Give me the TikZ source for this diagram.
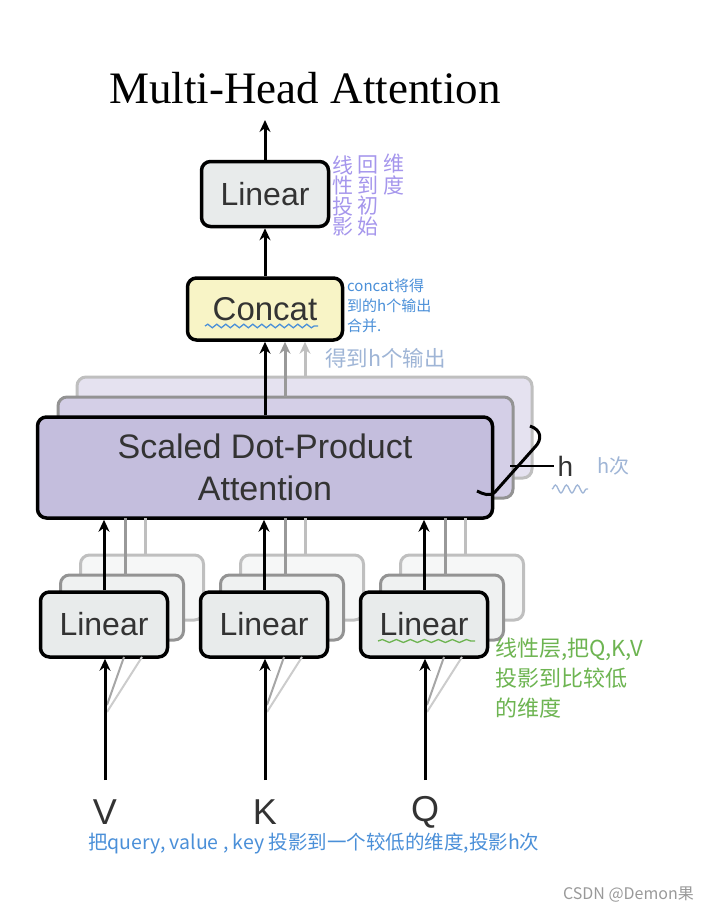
\documentclass[tikz,border=0pt]{standalone}
\usepackage{fontspec}
\setmainfont{Liberation Serif}
\setsansfont{Liberation Sans}
\newfontfamily\cjk{Noto Sans CJK SC}
\usetikzlibrary{arrows.meta,decorations.pathmorphing}

\definecolor{linfill}{HTML}{E8EBEB}
\definecolor{catfill}{HTML}{F8F4C6}
\definecolor{attfill}{HTML}{C4BEDD}
\definecolor{attfillb}{HTML}{D4CFE7}
\definecolor{attfillc}{HTML}{E5E2F0}
\definecolor{txtgray}{HTML}{333333}
\definecolor{notepurple}{HTML}{A596EC}
\definecolor{noteblue}{HTML}{4A8FD8}
\definecolor{notegrayblue}{HTML}{9FB5D6}
\definecolor{notegreen}{HTML}{6DB451}

\tikzset{
  box/.style={draw, line width=3.5pt, rounded corners=9pt, inner sep=0pt, text=txtgray},
  linbox/.style={box, fill=linfill, minimum width=127pt, minimum height=65pt,
    font=\sffamily\fontsize{32}{36}\selectfont},
  catbox/.style={box, fill=catfill, minimum width=155pt, minimum height=62pt,
    font=\sffamily\fontsize{33}{38}\selectfont},
  attbox/.style={box, fill=attfill, minimum width=455pt, minimum height=101pt, align=center,
    font=\sffamily\fontsize{34}{42}\selectfont},
  backb/.style={draw=gray!85, line width=3pt, rounded corners=9pt},
  backc/.style={draw=gray!50, line width=3pt, rounded corners=9pt},
  arr/.style={-{Stealth[length=12pt,width=11pt]}, line width=3pt},
  garr/.style={arr, draw=gray!80},
  lgarr/.style={arr, draw=gray!50},
  note/.style={font=\cjk\fontsize{#1}{#1}\selectfont, inner sep=0pt},
  wavy/.style={decorate, decoration={snake, amplitude=#1, segment length=9pt}, line width=1.3pt}
}

\begin{document}
\begin{tikzpicture}[x=1pt, y=-1pt]
  \useasboundingbox (0,0) rectangle (708,915);

  % 标题
  \node (title) at (305,88) {\fontsize{45}{50}\selectfont Multi-Head Attention};

  % 上面的 Linear 和 Concat
  \node[linbox] (lout) at (265,194) {Linear};
  \node[catbox] (cat) at (265,309) {Concat};
  \coordinate (top) at (265,120);
  \draw[arr] (lout.north) -- (top);
  \draw[arr] (cat.north) -- (lout.south);

  % h 层 Scaled Dot-Product Attention
  \draw[backc, fill=attfillc] (77,377) rectangle (532,478);
  \draw[backb, fill=attfillb] (58,397) rectangle (513,498);
  \node[attbox] (att) at (265,467.5) {Scaled Dot-Product\\Attention};
  \draw[lgarr] (305,377) -- ([xshift=40pt]cat.south);
  \draw[garr] (285,397) -- ([xshift=20pt]cat.south);
  \draw[arr] (att.north) -- (cat.south);

  % 括号和 h
  \draw[line width=3pt] (530,426) .. controls (542,430) and (542,440) .. (535,447)
    -- (495,492) .. controls (490,497) and (483,494) .. (477,491);
  \coordinate (hl) at (510,466);
  \node[font=\sffamily\fontsize{28}{30}\selectfont, text=txtgray, right=0pt] (h) at (554,466) {h};
  \draw[line width=2pt] (hl) -- (h.west);

  % 三个 Linear 层
  \foreach \nm/\x/\lab in {lv/104/V, lk/264/K, lq/424/Q} {
    \draw[backc, fill=linfill!40] (\x-23.5,555) rectangle (\x+99.5,620);
    \draw[backb, fill=linfill!70] (\x-43.5,575) rectangle (\x+79.5,640);
    \draw[lgarr, -] (\x+41,555) -- (\x+41,518);
    \draw[garr, -] (\x+21,575) -- (\x+21,518);
    \node[linbox] (\nm) at (\x,624.5) {Linear};
    \draw[arr] (\nm.north) -- (\nm.north |- att.south);
    \node[font=\sffamily\fontsize{36}{40}\selectfont, text=txtgray] (\nm in) at (\x+1,812) {\lab};
    \coordinate (\nm b) at (\x+1,780);
    \draw[line width=2pt, draw=gray!70] (\x+3,705) -- (\x+20,657);
    \draw[line width=2pt, draw=gray!40] (\x+3,712) -- (\x+38,657);
    \draw[arr] (\nm b) -- (\nm.south -| \nm b);
  }

  % 批注
  \draw[wavy=1.8, draw=noteblue] (205,326) -- (318,326);
  \draw[wavy=1.5, draw=notegreen, decoration={segment length=14pt}] (378,641) -- (475,641);
  \draw[wavy=4, draw=notegrayblue, decoration={segment length=11pt}] (552,489) -- (588,489);

  \node[note=21, text=notepurple, align=center, font=\cjk\fontsize{21}{20.5}\selectfont] (np1) at (343,196) {线\\性\\投\\影};
  \node[note=21, text=notepurple, align=center, font=\cjk\fontsize{21}{20.5}\selectfont] (np2) at (368,196) {回\\到\\初\\始};
  \node[note=21, text=notepurple, align=center, font=\cjk\fontsize{21}{22}\selectfont] (np3) at (394,175) {维\\度};

  \node[note=15, text=noteblue, align=left, anchor=north west, font=\cjk\fontsize{15}{20}\selectfont] (ncat) at (347,279) {concat将得\\到的h个输出\\合并.};
  \node[note=21.5, text=notegrayblue, anchor=west] (nout) at (325,358) {得到h个输出};
  \node[note=20, text=notegrayblue, anchor=west] (nh) at (597,466) {h次};
  \node[note=22, text=notegreen, align=left, anchor=north west, font=\cjk\fontsize{22}{30}\selectfont] (nlin) at (495,638) {线性层,把Q,K,V\\投影到比较低\\的维度};
  \node[note=19.5, text=noteblue, anchor=west] (nqkv) at (88,844) {把query, value , key 投影到一个较低的维度,投影h次};

  \node[note=16, text=gray!80, anchor=east] (csdn) at (694,895) {CSDN @Demon果};
\end{tikzpicture}
\end{document}
